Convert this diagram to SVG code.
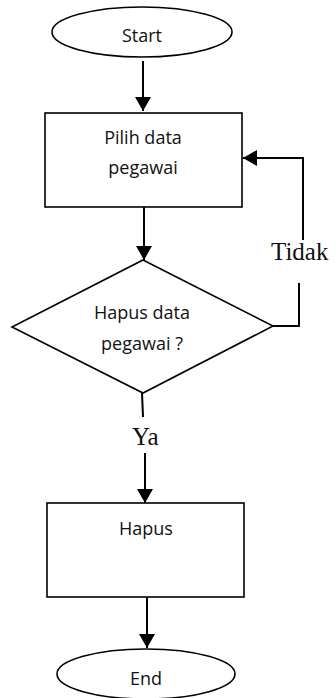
<svg xmlns="http://www.w3.org/2000/svg" width="336" height="698" viewBox="0 0 336 698">
<defs>
<marker id="ah" viewBox="0 0 14 16" refX="14" refY="8" markerWidth="14" markerHeight="16" markerUnits="userSpaceOnUse" orient="auto">
<path d="M0,0 L14,8 L0,16 z" fill="#000"/>
</marker>
<style>
.shape{fill:#fff;stroke:#000;stroke-width:1.6}
.lbl{font-family:"Open Sans","DejaVu Sans",sans-serif;font-size:18px;fill:#111;text-anchor:middle}
.edge{fill:none;stroke:#000;stroke-width:2}
.elbl{font-family:"Liberation Serif","Times New Roman",serif;font-size:25px;fill:#111}
</style>
</defs>
<rect width="336" height="698" fill="#fff"/>
<g id="start">
<ellipse class="shape" cx="142" cy="32" rx="90" ry="25"/>
<text class="lbl" x="142" y="42">Start</text>
</g>
<g id="pilih">
<rect class="shape" x="45" y="113" width="197" height="94"/>
<text class="lbl" x="143" y="144">Pilih data</text>
<text class="lbl" x="143" y="174">pegawai</text>
</g>
<g id="decision">
<polygon class="shape" points="143,260 273,326 143,393 12,327"/>
<text class="lbl" x="142" y="319">Hapus data</text>
<text class="lbl" x="142" y="350">pegawai ?</text>
</g>
<g id="hapus">
<rect class="shape" x="47" y="503" width="197" height="94"/>
<text class="lbl" x="146" y="535">Hapus</text>
</g>
<g id="end">
<ellipse class="shape" cx="146" cy="674" rx="89" ry="25"/>
<text class="lbl" x="146" y="685">End</text>
</g>
<g id="connectors">
<path class="edge" d="M143,61 V111" marker-end="url(#ah)"/>
<path class="edge" d="M144,207 V260" marker-end="url(#ah)"/>
<path class="edge" d="M273,326 H299 V283"/>
<path class="edge" d="M303,240 V158 H243" marker-end="url(#ah)"/>
<text class="elbl" x="271" y="260">Tidak</text>
<path class="edge" d="M142,393 L143,417"/>
<text class="elbl" x="132" y="445">Ya</text>
<path class="edge" d="M145,453 V503" marker-end="url(#ah)"/>
<path class="edge" d="M147,597 V648" marker-end="url(#ah)"/>
</g>
</svg>
